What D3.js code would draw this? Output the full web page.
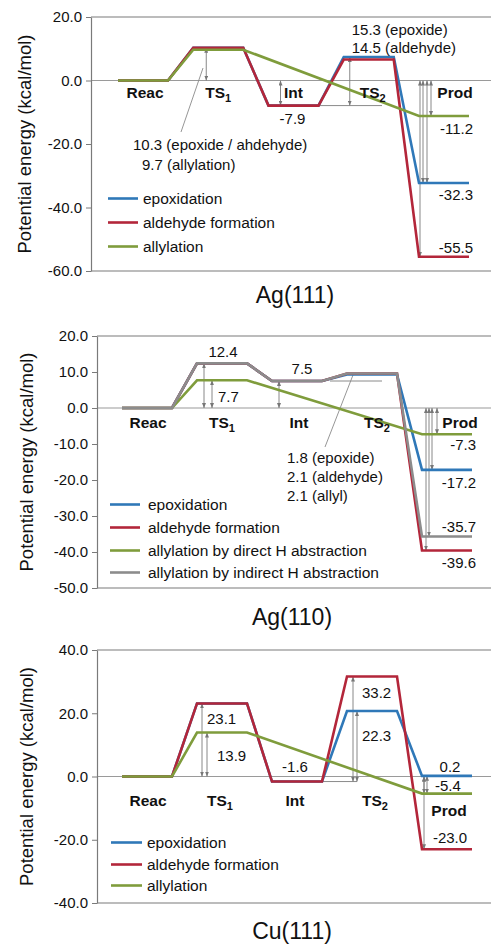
<!DOCTYPE html>
<html>
<head>
<meta charset="utf-8">
<script src="https://cdn.jsdelivr.net/npm/d3@7"></script>
<style>
  body { margin: 0; background: #fff; }
  svg { display: block; }
  text { font-family: "Liberation Sans", Arial, sans-serif; fill: #111; }
</style>
</head>
<body>
<svg id="chart" width="491" height="946"></svg>
<script>
// reaction coordinate
const states = ['Reac', 'TS1', 'Int', 'TS2', 'Prod'];

// Ag(111) energies (kcal/mol), null = state skipped
const ag111Epox = [0, 10.3, -7.9, 7.4, -32.3];
const ag111Ald = [0, 10.3, -7.9, 6.6, -55.5];
const ag111Ally = [0, 9.7, null, null, -11.2];

// Ag(110)
const ag110Epox = [0, 12.4, 7.5, 9.3, -17.2];
const ag110Ald = [0, 12.4, 7.5, 9.6, -39.6];
const ag110Direct = [0, 7.7, null, null, -7.3];
const ag110Indirect = [0, 12.4, 7.5, 9.6, -35.7];

// Cu(111)
const cu111Epox = [0, 23.1, -1.6, 20.7, 0.2];
const cu111Ald = [0, 23.1, -1.6, 31.6, -23.0];
const cu111Ally = [0, 13.9, null, null, -5.4];

const ag111Ticks = [20, 0, -20, -40, -60];
const ag110Ticks = [20, 10, 0, -10, -20, -30, -40, -50];
const cu111Ticks = [40, 20, 0, -20, -40];

const colors = { epox: '#2f78b8', ald: '#b3263a', ally: '#7f9c3c', gray: '#8c8c8c' };

const svg = d3.select('#chart');
const W = 491;

const defs = svg.append('defs');
defs.append('marker')
  .attr('id', 'head')
  .attr('markerUnits', 'userSpaceOnUse')
  .attr('markerWidth', 5).attr('markerHeight', 4)
  .attr('refX', 5).attr('refY', 2)
  .attr('orient', 'auto-start-reverse')
  .append('path').attr('d', 'M0,0L5,2L0,4Z').attr('fill', '#777');

const panels = [
  {
    title: 'Ag(111)', titleX: 295, titleY: 303,
    top: 17, bottom: 271, domain: [-60, 20], ticks: ag111Ticks, axisX: 91,
    xRange: [143, 444], labelX: 31,
    series: [
      { name: 'epoxidation', values: ag111Epox, color: colors.epox },
      { name: 'aldehyde formation', values: ag111Ald, color: colors.ald },
      { name: 'allylation', values: ag111Ally, color: colors.ally }
    ],
    legend: { x1: 108, x2: 138, tx: 143, ys: [204, 228, 252] },
    stateLabels: { dy: 17.5, dx: [2, 0, 0, 4, 11], prodDy: 17.5 },
    arrows: [
      { s: 1, dx: -12, from: 0, to: 10.3 },
      { s: 2, dx: -13, from: 0, to: -7.9 },
      { s: 3, dx: -19, from: -7.9, to: 7.4 },
      { s: 4, dx: -24, from: 0, to: -55.5 },
      { s: 4, dx: -21, from: 0, to: -32.3 },
      { s: 4, dx: -17, from: 0, to: -32.3 },
      { s: 4, dx: -13, from: 0, to: -11.2 }
    ],
    refLines: [{ v: -7.9, x1: 318, x2: 382 }],
    leaders: [{ x1: 181, y1: 132, x2: 203, y2: 68 }],
    labels: [
      { t: '15.3 (epoxide)', s: 3, dx: -17, v: 7.4, dy: -22, a: 'start' },
      { t: '14.5 (aldehyde)', s: 3, dx: -17, v: 7.4, dy: -4, a: 'start' },
      { t: '-7.9', s: 2, dx: -1, v: -7.9, dy: 18, a: 'middle' },
      { t: '-11.2', s: 4, dx: 29, v: -11.2, dy: 18, a: 'end' },
      { t: '-32.3', s: 4, dx: 29, v: -32.3, dy: 17, a: 'end' },
      { t: '-55.5', s: 4, dx: 29, v: -55.5, dy: -4, a: 'end' },
      { t: '10.3 (epoxide / ahdehyde)', s: 0, dx: -10, v: 0, dy: 69.5, a: 'start' },
      { t: '9.7 (allylation)', s: 0, dx: -1, v: 0, dy: 89.5, a: 'start' }
    ]
  },
  {
    title: 'Ag(110)', titleX: 292, titleY: 625,
    top: 336, bottom: 588, domain: [-50, 20], ticks: ag110Ticks, axisX: 97,
    xRange: [147, 447], labelX: 33,
    series: [
      { name: 'epoxidation', values: ag110Epox, color: colors.epox },
      { name: 'aldehyde formation', values: ag110Ald, color: colors.ald },
      { name: 'allylation by direct H abstraction', values: ag110Direct, color: colors.ally },
      { name: 'allylation by indirect H abstraction', values: ag110Indirect, color: colors.gray }
    ],
    legend: { x1: 110, x2: 140, tx: 148, ys: [510, 533, 556, 578] },
    stateLabels: { dy: 20, dx: [1, 0, 2, 5, 13], prodDy: 20 },
    arrows: [
      { s: 1, dx: -18, from: 0, to: 12.4 },
      { s: 1, dx: -10, from: 0, to: 7.7 },
      { s: 2, dx: -18, from: 0, to: 7.5 },
      { s: 4, dx: -21, from: 0, to: -39.6 },
      { s: 4, dx: -18, from: 0, to: -35.7 },
      { s: 4, dx: -15, from: 0, to: -17.2 },
      { s: 4, dx: -10, from: 0, to: -7.3 }
    ],
    refLines: [{ v: 7.5, x1: 330, x2: 382 }],
    leaders: [{ x1: 325, y1: 447, x2: 353, y2: 375 }],
    labels: [
      { t: '12.4', s: 1, dx: 1, v: 12.4, dy: -6.5, a: 'middle' },
      { t: '7.5', s: 2, dx: 5, v: 7.5, dy: -7, a: 'middle' },
      { t: '7.7', s: 1, dx: -4, v: 7.7, dy: 22, a: 'start' },
      { t: '-7.3', s: 4, dx: 29, v: -7.3, dy: 16, a: 'end' },
      { t: '-17.2', s: 4, dx: 29, v: -17.2, dy: 18, a: 'end' },
      { t: '-35.7', s: 4, dx: 29, v: -35.7, dy: -4.5, a: 'end' },
      { t: '-39.6', s: 4, dx: 29, v: -39.6, dy: 17, a: 'end' },
      { t: '1.8 (epoxide)', s: 2, dx: -10, v: 0, dy: 55, a: 'start' },
      { t: '2.1 (aldehyde)', s: 2, dx: -10, v: 0, dy: 74, a: 'start' },
      { t: '2.1 (allyl)', s: 2, dx: -10, v: 0, dy: 93, a: 'start' }
    ]
  },
  {
    title: 'Cu(111)', titleX: 292, titleY: 939,
    top: 650, bottom: 903, domain: [-40, 40], ticks: cu111Ticks, axisX: 97,
    xRange: [147, 447], labelX: 33,
    series: [
      { name: 'epoxidation', values: cu111Epox, color: colors.epox },
      { name: 'aldehyde formation', values: cu111Ald, color: colors.ald },
      { name: 'allylation', values: cu111Ally, color: colors.ally }
    ],
    legend: { x1: 111, x2: 142, tx: 147, ys: [848, 870, 891] },
    stateLabels: { dy: 29.5, dx: [1, -2, -2, 3, 2], prodDy: 39.5 },
    arrows: [
      { s: 1, dx: -20, from: 0, to: 23.1 },
      { s: 1, dx: -15, from: 0, to: 13.9 },
      { s: 3, dx: -19, from: -1.6, to: 31.6 },
      { s: 3, dx: -15, from: -1.6, to: 20.7 },
      { s: 4, dx: -23, from: 0, to: -23.0 },
      { s: 4, dx: -23, from: 0, to: -5.4 },
      { s: 4, dx: -20, from: 0.2, to: -5.4 }
    ],
    refLines: [{ v: -1.6, x1: 322, x2: 357 }],
    leaders: [],
    labels: [
      { t: '23.1', s: 1, dx: -15, v: 23.1, dy: 20.5, a: 'start' },
      { t: '13.9', s: 1, dx: -5, v: 13.9, dy: 28.5, a: 'start' },
      { t: '-1.6', s: 2, dx: -2, v: -1.6, dy: -9.5, a: 'middle' },
      { t: '33.2', s: 3, dx: -10, v: 31.6, dy: 21, a: 'start' },
      { t: '22.3', s: 3, dx: -10, v: 20.7, dy: 30, a: 'start' },
      { t: '0.2', s: 4, dx: 3, v: 0.2, dy: -4, a: 'middle' },
      { t: '-5.4', s: 4, dx: -12, v: -5.4, dy: -2.6, a: 'start' },
      { t: '-23.0', s: 4, dx: 3, v: -23.0, dy: -6, a: 'middle' }
    ]
  }
];

const HW = 25; // half width of each state plateau

panels.forEach(p => {
  const y = d3.scaleLinear().domain(p.domain).range([p.bottom, p.top]);
  const x = d3.scaleLinear().domain([0, states.length - 1]).range(p.xRange);
  const g = svg.append('g');

  // frame: top, bottom and zero lines
  [p.domain[1], p.domain[0]].forEach(v => {
    g.append('line')
      .attr('x1', p.axisX).attr('x2', W)
      .attr('y1', y(v)).attr('y2', y(v))
      .attr('stroke', '#7a7a7a').attr('stroke-width', 1.2);
  });
  g.append('line')
    .attr('x1', p.axisX).attr('x2', W)
    .attr('y1', y(0)).attr('y2', y(0))
    .attr('stroke', '#9a9a9a').attr('stroke-width', 1.2);

  const axis = d3.axisLeft(y)
    .tickValues(p.ticks)
    .tickFormat(v => v.toFixed(1))
    .tickSize(5)
    .tickSizeOuter(0)
    .tickPadding(4);
  const ax = g.append('g')
    .attr('transform', `translate(${p.axisX},0)`)
    .call(axis);
  ax.select('.domain').attr('stroke', '#7a7a7a').attr('stroke-width', 1.2);
  ax.selectAll('.tick line').attr('stroke', '#7a7a7a');
  ax.selectAll('.tick text')
    .attr('font-family', '"Liberation Sans", Arial, sans-serif')
    .attr('font-size', 15).attr('fill', '#111');

  // y axis title
  g.append('text')
    .attr('transform', `translate(${p.labelX},${(p.top + p.bottom) / 2}) rotate(-90)`)
    .attr('text-anchor', 'middle')
    .attr('font-size', 18.5)
    .text('Potential energy (kcal/mol)');

  // reference lines and leaders
  p.refLines.forEach(r => {
    g.append('line')
      .attr('x1', r.x1).attr('x2', r.x2)
      .attr('y1', y(r.v)).attr('y2', y(r.v))
      .attr('stroke', '#8a8a8a').attr('stroke-width', 1);
  });
  p.leaders.forEach(l => {
    g.append('line')
      .attr('x1', l.x1).attr('y1', l.y1).attr('x2', l.x2).attr('y2', l.y2)
      .attr('stroke', '#8a8a8a').attr('stroke-width', 0.9);
  });

  // double headed arrows
  g.selectAll('line.arrow')
    .data(p.arrows)
    .enter()
    .append('line')
    .attr('class', 'arrow')
    .attr('x1', d => x(d.s) + d.dx).attr('x2', d => x(d.s) + d.dx)
    .attr('y1', d => y(d.from)).attr('y2', d => y(d.to))
    .attr('stroke', '#7a7a7a').attr('stroke-width', 0.9)
    .attr('marker-start', 'url(#head)')
    .attr('marker-end', 'url(#head)');

  // energy profiles
  const line = d3.line().x(d => d[0]).y(d => d[1]);
  p.series.forEach(s => {
    const pts = [];
    s.values.forEach((v, i) => {
      if (v === null) return;
      pts.push([x(i) - HW, y(v)], [x(i) + HW, y(v)]);
    });
    g.append('path')
      .attr('d', line(pts))
      .attr('fill', 'none')
      .attr('stroke', s.color)
      .attr('stroke-width', 2.6)
      .attr('stroke-linejoin', 'miter');
  });

  // state labels
  states.forEach((st, i) => {
    const t = g.append('text')
      .attr('x', x(i) + p.stateLabels.dx[i])
      .attr('y', y(0) + (i === 4 ? p.stateLabels.prodDy : p.stateLabels.dy))
      .attr('text-anchor', 'middle')
      .attr('font-size', 15.5)
      .attr('font-weight', 'bold');
    if (st.startsWith('TS')) {
      t.append('tspan').text('TS');
      t.append('tspan').attr('font-size', 11).attr('dy', 4).text(st.slice(2));
    } else {
      t.text(st);
    }
  });

  // value annotations
  p.labels.forEach(l => {
    g.append('text')
      .attr('x', x(l.s) + l.dx)
      .attr('y', y(l.v) + l.dy)
      .attr('text-anchor', l.a)
      .attr('font-size', 15)
      .text(l.t);
  });

  // legend
  p.series.forEach((s, i) => {
    g.append('line')
      .attr('x1', p.legend.x1).attr('x2', p.legend.x2)
      .attr('y1', p.legend.ys[i] - 5.5).attr('y2', p.legend.ys[i] - 5.5)
      .attr('stroke', s.color).attr('stroke-width', 2.6);
    g.append('text')
      .attr('x', p.legend.tx)
      .attr('y', p.legend.ys[i])
      .attr('font-size', 15.5)
      .text(s.name);
  });

  // panel title
  g.append('text')
    .attr('x', p.titleX)
    .attr('y', p.titleY)
    .attr('text-anchor', 'middle')
    .attr('font-size', 23)
    .text(p.title);
});
</script>
</body>
</html>
